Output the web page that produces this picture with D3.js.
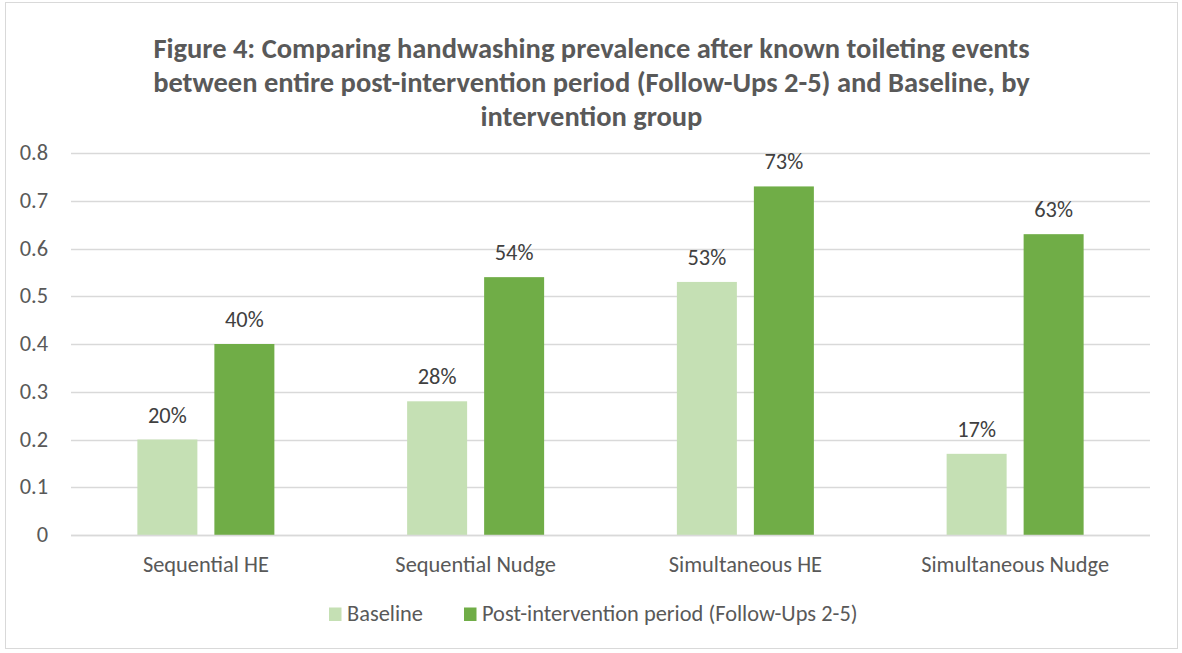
<!DOCTYPE html>
<html>
<head>
<meta charset="utf-8">
<script src="https://cdn.jsdelivr.net/npm/d3@7/dist/d3.min.js"></script>
<style>
  html, body { margin: 0; padding: 0; background: #fff; }
  svg text { font-family: Carlito, Calibri, Lato, "Liberation Sans", sans-serif; }
</style>
</head>
<body>
<svg id="chart" width="1182" height="653"></svg>
<script>
const categories = ["Sequential HE", "Sequential Nudge", "Simultaneous HE", "Simultaneous Nudge"];
const seriesNames = ["Baseline", "Post-intervention period (Follow-Ups 2-5)"];
const baseline = [0.20, 0.28, 0.53, 0.17];
const postIntervention = [0.40, 0.54, 0.73, 0.63];
const yTicks = [0, 0.1, 0.2, 0.3, 0.4, 0.5, 0.6, 0.7, 0.8];
const titleLines = [
  "Figure 4: Comparing handwashing prevalence after known toileting events",
  "between entire post-intervention period (Follow-Ups 2-5) and Baseline, by",
  "intervention group"
];
const colors = ["#C5E0B4", "#70AD47"];

const svg = d3.select("#chart");
const W = 1182, H = 653;
const FS = 22.4;

// outer border
svg.append("rect").attr("x", 5.5).attr("y", 2.5).attr("width", 1172).attr("height", 646)
  .attr("fill", "#fff").attr("stroke", "#d9d9d9").attr("stroke-width", 1);

const margin = {left: 71, right: 32, top: 153, bottom: 118};
const x0 = d3.scaleBand().domain(categories).range([margin.left, W - margin.right]).paddingInner(0).paddingOuter(0);
const x1 = d3.scaleBand().domain(seriesNames).range([0, x0.bandwidth()]).paddingInner(0.2208).paddingOuter(0.862);
const y = d3.scaleLinear().domain([0, 0.8]).range([H - margin.bottom, margin.top]);

// title
const title = svg.append("text").attr("text-anchor", "middle").attr("fill", "#595959")
  .attr("font-weight", "bold").attr("font-size", 28.5);
titleLines.forEach((t, i) => {
  title.append("tspan").attr("x", 591.5).attr("y", 58 + i * 34).text(t);
});

// gridlines
svg.append("g").selectAll("line").data(yTicks).join("line")
  .attr("x1", margin.left).attr("x2", W - margin.right)
  .attr("y1", d => Math.round(y(d)) + 0.5).attr("y2", d => Math.round(y(d)) + 0.5)
  .attr("stroke", "#d9d9d9").attr("stroke-width", 1.3);

// y axis labels
const yAxis = d3.axisLeft(y).tickValues(yTicks).tickSize(0).tickPadding(0)
  .tickFormat(d => d === 0 ? "0" : d3.format(".1f")(d));
const yg = svg.append("g").attr("transform", `translate(${48},0)`).call(yAxis);
yg.select(".domain").remove();
yg.selectAll("text").attr("font-size", FS).attr("fill", "#595959").attr("font-family", null)
  .attr("dy", "0.3em");

// bars
const groups = svg.append("g").selectAll("g").data(categories).join("g")
  .attr("transform", d => `translate(${x0(d)},0)`);
const series = [baseline, postIntervention];
groups.selectAll("rect").data((d, i) => series.map((s, k) => ({k, v: s[i]}))).join("rect")
  .attr("x", d => x1(seriesNames[d.k]))
  .attr("width", x1.bandwidth())
  .attr("y", d => y(d.v))
  .attr("height", d => y(0) - y(d.v))
  .attr("fill", d => colors[d.k]);

// data labels
groups.selectAll("text").data((d, i) => series.map((s, k) => ({k, v: s[i]}))).join("text")
  .attr("x", d => x1(seriesNames[d.k]) + x1.bandwidth() / 2)
  .attr("y", d => y(d.v) - 17)
  .attr("text-anchor", "middle")
  .attr("font-size", FS).attr("fill", "#404040")
  .text(d => d3.format(".0%")(d.v));

// axis baseline
svg.append("line").attr("x1", margin.left).attr("x2", W - margin.right)
  .attr("y1", Math.round(y(0)) + 0.5).attr("y2", Math.round(y(0)) + 0.5)
  .attr("stroke", "#d9d9d9").attr("stroke-width", 1.5);

// x axis labels
const xAxis = d3.axisBottom(x0).tickSize(0).tickPadding(0);
const xg = svg.append("g").attr("transform", `translate(0,${y(0)})`).call(xAxis);
xg.select(".domain").remove();
xg.selectAll("text").attr("font-size", FS).attr("fill", "#595959").attr("font-family", null)
  .attr("y", 37).attr("dy", null);

// legend
const legend = svg.append("g").attr("transform", "translate(329,607.5)");
const legendX = [0, 135];
seriesNames.forEach((n, i) => {
  const g = legend.append("g").attr("transform", `translate(${legendX[i]},0)`);
  g.append("rect").attr("width", 12.5).attr("height", 13.5).attr("fill", colors[i]);
  g.append("text").attr("x", 18).attr("y", 13.5).attr("font-size", FS).attr("fill", "#595959").text(n);
});
</script>
</body>
</html>
